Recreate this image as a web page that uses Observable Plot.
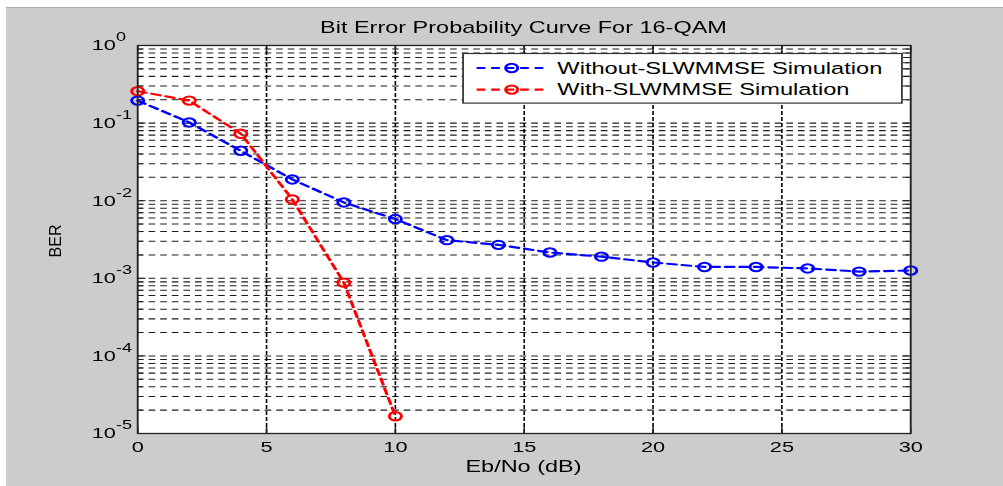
<!DOCTYPE html>
<html>
<head>
<meta charset="utf-8">
<script src="https://cdn.jsdelivr.net/npm/d3@7"></script>
<script src="https://cdn.jsdelivr.net/npm/@observablehq/plot@0.6"></script>
<style>
  html, body { margin: 0; padding: 0; background: #ffffff; width: 1003px; height: 486px; overflow: hidden; }
  #bg { position: absolute; left: 6px; top: 7px; width: 997px; height: 478px; background: #cccccc; border-top: 1px solid #a8a8a8; }
  #wrap { position: absolute; left: 0; top: 0; width: 692px; height: 486px; transform: scaleX(1.4494); transform-origin: 0 0;
          font-family: Arial, "Liberation Sans", sans-serif; color: #000; }
  #chart { position: absolute; left: 0; top: 0; }
  .lbl { position: absolute; font-size: 16.2px; line-height: 16px; text-align: center; white-space: nowrap; }
  #legend { position: absolute; overflow: visible; }
  #ylabel { position: absolute; left: 6px; top: 231px; width: 100px; height: 20px; line-height: 20px; font-size: 16px;
            text-align: center; transform: rotate(-90deg); font-family: Arial, "Liberation Sans", sans-serif; color: #000; }
</style>
</head>
<body>
<div id="bg"></div>
<div id="wrap">
  <div id="chart"></div>
  <div id="title" class="lbl">Bit Error Probability Curve For 16-QAM</div>
  <div id="xlabel" class="lbl">Eb/No (dB)</div>
  <svg id="legend"></svg>
</div>
<div id="ylabel">BER</div>
<script>
// ---- data ----
const ebno = [0, 2, 4, 6, 8, 10, 12, 14, 16, 18, 20, 22, 24, 26, 28, 30];
const berWithout = [0.195, 0.102, 0.044, 0.0188, 0.0095, 0.0058, 0.0031, 0.0027, 0.00215, 0.0019, 0.0016, 0.0014, 0.0014, 0.00134, 0.00122, 0.00126];
const ebnoWith = [0, 2, 4, 6, 8, 10];
const berWith = [0.258, 0.195, 0.073, 0.0104, 0.00088, 0.0000167];
const seriesNames = ["Without-SLWMMSE Simulation", "With-SLWMMSE Simulation"];
const seriesColors = ["#0000ff", "#ff0000"];
const xTicks = [0, 5, 10, 15, 20, 25, 30];
const yDecades = [1e-5, 1e-4, 1e-3, 1e-2, 1e-1, 1];
const yMultipliers = [2, 3, 4, 5, 6, 7, 8, 9];
const titleText = "Bit Error Probability Curve For 16-QAM";
const xLabel = "Eb/No (dB)";
const yLabel = "BER";

// ---- derived ----
const yMinor = [];
yDecades.slice(0, -1).forEach(d => yMultipliers.forEach(k => yMinor.push(+(k * d).toPrecision(3))));
const dataWithout = ebno.map((x, i) => ({x, y: berWithout[i], s: seriesNames[0]}));
const dataWith = ebnoWith.map((x, i) => ({x, y: berWith[i], s: seriesNames[1]}));

// ---- layout (unscaled coordinates; wrapper stretched horizontally) ----
const S = 1003 / 692;
const W = 692, H = 486;
const fL = 137 / S, fR = 910 / S, fT = 45, fB = 433;
const mL = fL, mR = W - fR, mT = fT, mB = H - fB;

const font = "Arial, 'Liberation Sans', sans-serif";
const chart = Plot.plot({
  width: W, height: H,
  marginLeft: mL, marginRight: mR, marginTop: mT, marginBottom: mB,
  style: {background: "transparent", fontFamily: font, fontSize: "15px", color: "#000", overflow: "visible"},
  x: {domain: [0, 30]},
  y: {type: "log", domain: [1e-5, 1]},
  marks: [
    Plot.frame({fill: "white", stroke: null}),
    Plot.ruleY(yMinor.concat(yDecades.slice(1, -1)), {stroke: "#1e1e1e", strokeWidth: 1.05, strokeDasharray: "4.6,3.4"}),
    Plot.ruleX(xTicks.slice(1, -1), {stroke: "#000", strokeWidth: 1.1, strokeDasharray: "4,2"}),
    Plot.axisX(xTicks, {anchor: "bottom", tickSize: -6, tickPadding: 14, label: null, stroke: "#222"}),
    Plot.axisX(xTicks, {anchor: "top", tickSize: -6, tickFormat: () => "", label: null, stroke: "#222"}),
    Plot.axisY(yDecades, {anchor: "left", tickSize: -6, tickPadding: (137 - 91) / S + 6, textAnchor: "start",
      tickFormat: d => "10|" + Math.round(Math.log10(d)), label: null, stroke: "#222"}),
    Plot.axisY(yMinor, {anchor: "left", tickSize: -4, tickFormat: () => "", label: null, stroke: "#222"}),
    Plot.axisY(yDecades, {anchor: "right", tickSize: -6, tickFormat: () => "", label: null, stroke: "#222"}),
    Plot.axisY(yMinor, {anchor: "right", tickSize: -4, tickFormat: () => "", label: null, stroke: "#222"}),
    Plot.line(dataWithout, {x: "x", y: "y", stroke: seriesColors[0], strokeWidth: 2.2, strokeDasharray: "6,4"}),
    Plot.dot(dataWithout, {x: "x", y: "y", r: 4.2, stroke: seriesColors[0], strokeWidth: 2, fill: "none"}),
    Plot.line(dataWith, {x: "x", y: "y", stroke: seriesColors[1], strokeWidth: 2.2, strokeDasharray: "6,4"}),
    Plot.dot(dataWith, {x: "x", y: "y", r: 4.2, stroke: seriesColors[1], strokeWidth: 2, fill: "none"}),
    Plot.frame({stroke: "#222", strokeWidth: 1.3})
  ]
});
document.getElementById("chart").appendChild(chart);

// superscript exponents on the log axis labels
d3.select(chart).selectAll('g[aria-label="y-axis tick label"] text').each(function() {
  const t = d3.select(this);
  const s = t.text();
  if (!s.includes("|")) return;
  const [b, e] = s.split("|");
  t.text(null);
  t.append("tspan").text(b);
  t.append("tspan").attr("dy", -9).attr("font-size", 12.5).text(e);
});

// title and axis labels
const frameW = fR - fL;
const title = document.getElementById("title");
title.textContent = titleText;
Object.assign(title.style, {left: fL + "px", width: frameW + "px", top: "19px"});
const xl = document.getElementById("xlabel");
xl.textContent = xLabel;
Object.assign(xl.style, {left: fL + "px", width: frameW + "px", top: "458px"});
document.getElementById("ylabel").textContent = yLabel;

// legend
const lgX = 461.7 / S, lgY = 52.7, lgW = (902 - 461.7) / S, lgH = 50.6;
const lg = d3.select("#legend")
  .attr("width", lgW).attr("height", lgH)
  .style("left", lgX + "px").style("top", lgY + "px");
lg.append("rect").attr("x", 0.5).attr("y", 0.5).attr("width", lgW - 1).attr("height", lgH - 1)
  .attr("fill", "white").attr("stroke", "#333").attr("stroke-width", 1.2);
const rowY = [15, 36.6];
const baseY = [20.6, 42.3];
const x0 = 476 / S - lgX, x1 = 545 / S - lgX, xm = 511 / S - lgX, xt = 556.7 / S - lgX;
seriesNames.forEach((name, i) => {
  lg.append("line").attr("x1", x0).attr("x2", x1).attr("y1", rowY[i]).attr("y2", rowY[i])
    .attr("stroke", seriesColors[i]).attr("stroke-width", 2.2).attr("stroke-dasharray", "6,4");
  lg.append("circle").attr("cx", xm).attr("cy", rowY[i]).attr("r", 4.2)
    .attr("fill", "none").attr("stroke", seriesColors[i]).attr("stroke-width", 2);
  lg.append("text").attr("x", xt).attr("y", baseY[i]).attr("font-size", 16.3)
    .attr("font-family", font).attr("fill", "#000").text(name);
});
</script>
</body>
</html>
